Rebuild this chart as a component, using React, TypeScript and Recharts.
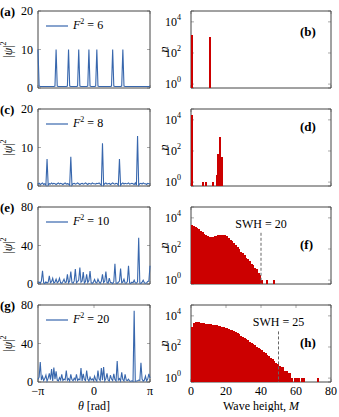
import {
  LineChart,
  Line,
  BarChart,
  Bar,
  XAxis,
  YAxis,
  CartesianGrid,
  ReferenceArea,
  ReferenceLine,
  Legend,
} from "recharts";

const SERIF = '"Liberation Serif", "DejaVu Serif", serif';
const BLUE = "#3867ad";
const RED = "#cc0000";
const FRAME = "#444";
const TICK = "#aaa";
const PI = Math.PI;

// |psi|^2 sampled on theta in [-pi, pi], 100 points per panel
const psiA = [
  10, 0.5, 0.4, 0.4, 0.4, 0.4, 0.4, 0.4, 0.4, 0.4,
  0.4, 0.4, 0.4, 0.4, 0.4, 0.5, 10, 0.5, 0.4, 0.4,
  0.4, 0.4, 0.4, 0.4, 0.4, 0.4, 0.5, 10, 0.5, 0.4,
  0.4, 0.4, 0.4, 0.4, 0.4, 0.5, 10, 0.5, 0.4, 0.4,
  0.4, 0.4, 0.4, 0.4, 0.5, 10, 0.5, 0.4, 0.4, 0.4,
  0.4, 0.5, 10, 0.5, 0.4, 0.4, 0.4, 0.4, 0.4, 0.4,
  0.4, 0.4, 0.4, 0.4, 0.4, 0.5, 10, 0.5, 0.4, 0.4,
  0.4, 0.4, 0.4, 0.4, 0.5, 10, 0.5, 0.4, 0.4, 0.4,
  0.4, 0.4, 0.4, 0.4, 0.4, 0.4, 0.4, 0.4, 0.4, 0.4,
  0.4, 0.4, 0.4, 0.4, 0.4, 0.4, 0.4, 0.4, 0.4, 0.4,
];
const psiC = [
  0.5, 0.7, 0.4, 0.6, 0.8, 0.4, 0.6, 0.2, 7.0, 0.2,
  0.6, 0.5, 0.8, 0.5, 0.7, 0.6, 0.4, 0.6, 0.8, 0.5,
  0.7, 0.6, 0.4, 0.6, 0.8, 0.5, 0.6, 0.5, 0.2, 7.6,
  0.2, 0.6, 0.7, 0.5, 0.6, 0.8, 0.6, 0.4, 0.6, 0.7,
  0.5, 0.6, 0.8, 0.6, 0.4, 0.7, 0.6, 0.5, 0.8, 0.6,
  0.6, 0.5, 0.7, 0.6, 0.8, 0.5, 0.2, 11.1, 0.2, 0.6,
  0.8, 0.5, 0.6, 0.7, 0.4, 0.6, 0.8, 0.6, 0.5, 0.7,
  0.6, 0.2, 7.0, 0.2, 0.6, 0.8, 0.5, 0.7, 0.6, 0.6,
  0.8, 0.5, 0.6, 0.7, 0.6, 0.4, 0.8, 0.2, 13.0, 0.2,
  0.6, 0.7, 0.5, 0.8, 0.6, 0.6, 0.4, 0.7, 0.6, 0.5,
];
const psiE = [
  1.5, 2.0, 0.8, 3.0, 13.7, 1.2, 0.6, 2.2, 1.0, 1.8,
  8.5, 1.4, 2.5, 6.0, 1.0, 2.0, 5.0, 1.3, 2.4, 6.0,
  1.2, 0.8, 2.6, 5.0, 1.5, 2.0, 10.0, 1.1, 3.0, 13.0,
  1.6, 0.9, 3.2, 15.5, 1.3, 2.4, 4.0, 17.0, 1.8, 3.0,
  12.5, 1.0, 2.6, 10.0, 1.4, 3.5, 13.5, 1.2, 0.7, 2.0,
  4.7, 1.6, 1.0, 5.0, 2.2, 0.8, 2.8, 10.0, 1.4, 3.0,
  13.0, 1.5, 0.9, 6.0, 1.7, 1.2, 0.6, 2.4, 21.0, 1.0,
  0.7, 1.8, 3.0, 16.0, 1.2, 2.0, 5.0, 1.1, 0.8, 2.5,
  19.0, 1.0, 0.6, 2.0, 1.4, 4.0, 1.2, 0.8, 2.2, 48.0,
  1.0, 0.7, 2.0, 4.0, 1.3, 0.8, 1.1, 2.6, 3.0, 19.0,
];
const psiG = [
  3.0, 5.0, 20.8, 2.0, 6.0, 1.5, 3.5, 7.0, 1.0, 4.0,
  9.0, 2.5, 13.5, 1.0, 15.0, 3.0, 11.0, 2.0, 1.2, 4.5,
  2.0, 8.0, 1.5, 3.0, 2.2, 12.0, 1.8, 3.5, 1.0, 8.0,
  2.5, 1.2, 4.0, 2.0, 8.0, 1.5, 3.0, 2.2, 14.5, 1.0,
  8.5, 2.5, 1.4, 12.0, 3.0, 1.0, 5.0, 2.0, 3.2, 1.5,
  6.0, 2.4, 1.0, 12.0, 3.0, 1.5, 14.5, 2.0, 15.5, 1.2,
  3.5, 9.0, 2.0, 1.0, 7.0, 3.0, 1.5, 8.5, 2.5, 1.0,
  21.8, 2.0, 3.5, 1.2, 10.0, 2.5, 1.0, 8.0, 2.0, 1.5,
  3.0, 1.0, 0.8, 1.2, 0.6, 74.0, 0.8, 1.0, 1.4, 2.0,
  1.5, 20.0, 3.0, 1.0, 2.0, 6.0, 1.2, 3.0, 8.5, 4.0,
];

const forcing = [6, 8, 10, 20]; // F^2 per row
const psiMax = [20, 20, 80, 80];

// histogram counts, unit bins of wave height M starting at 0 (0 = empty bin)
const histB = [1500, 0, 0, 0, 0, 0, 0, 0, 0, 0, 1000];
const histD = [20000, 0, 0, 0, 0, 0, 1, 0, 1, 0, 0, 0, 1, 0, 3, 60, 800, 40];
const histF = [
  3700, 3200, 2600, 2300, 1900, 1500, 1150, 900, 750, 660,
  620, 600, 610, 650, 720, 780, 830, 850, 830, 760,
  650, 520, 400, 320, 240, 175, 130, 95, 68, 55,
  40, 28, 22, 16, 11, 9, 6, 5, 3, 2,
  1, 0, 0, 1, 0, 0, 0, 1,
];
const histH = [
  1800, 3300, 4100, 4000, 3800, 3600, 3400, 3300, 3100, 3000,
  2900, 2800, 2700, 2600, 2500, 2350, 2200, 2050, 1900, 1750,
  1600, 1450, 1300, 1150, 1000, 880, 760, 640, 540, 450,
  380, 320, 270, 220, 180, 150, 130, 105, 88, 72,
  60, 50, 40, 32, 25, 20, 17, 12, 10, 8,
  6, 5, 5, 3, 3, 2, 2, 1, 0, 1,
  1, 1, 0, 1, 1, 0, 0, 0, 0, 0,
  0, 0, 1,
];
const swh = [null, null, 20, 25];
const swhLineTop = [0, 0, 1100, 1000];

const LEFT_LETTERS = ["(a)", "(c)", "(e)", "(g)"];
const RIGHT_LETTERS = ["(b)", "(d)", "(f)", "(h)"];
const RIGHT_LETTER_TOP = [21, 18, 38, 38];

const ROW_TOP = [11, 109, 207, 305];
const MT = 8; // space above each plot for tick labels
const PLOT_H = 77;
const LEFT_W = 112;
const RIGHT_W = 140;
const N_MIN = 0.562;
const N_MAX = 50000;

const tickStyle = { fontFamily: SERIF, fontSize: 12, fill: "#000" };

const LogTick = ({ x, y, payload }: any) => {
  const exp = Math.round(Math.log10(payload.value));
  return (
    <text x={x} y={y} textAnchor="end" dominantBaseline="central" fontFamily={SERIF} fontSize={12} fill="#000">
      10
      <tspan dy={-5} fontSize={8}>
        {exp}
      </tspan>
    </text>
  );
};

// each histogram bar a little wider than its bin so neighbours join up
const HistBar = (p: any) =>
  p.height > 0 ? (
    <rect x={p.x + p.width / 2 - 1} y={p.y} width={2} height={p.height} fill={RED} shapeRendering="crispEdges" />
  ) : null;

const PsiLabel = ({ viewBox }: any) => {
  const cx = (viewBox?.x ?? 0) + 8;
  const cy = (viewBox?.y ?? MT) + (viewBox?.height ?? PLOT_H) / 2;
  return (
    <text x={cx} y={cy} transform={`rotate(-90 ${cx} ${cy})`} textAnchor="middle" dominantBaseline="central" fontFamily={SERIF} fontSize={12} fill="#000">
      |<tspan fontStyle="italic">ψ</tspan>|<tspan dy={-5} fontSize={8}>2</tspan>
    </text>
  );
};

const NLabel = ({ viewBox }: any) => {
  const cx = (viewBox?.x ?? 0) + 8;
  const cy = (viewBox?.y ?? MT) + (viewBox?.height ?? PLOT_H) / 2;
  return (
    <text x={cx} y={cy} transform={`rotate(-90 ${cx} ${cy})`} textAnchor="middle" dominantBaseline="central" fontFamily={SERIF} fontSize={13} fontStyle="italic" fill="#000">
      n
    </text>
  );
};

const ThetaTitle = ({ viewBox }: any) => {
  const cx = (viewBox?.x ?? 38) + (viewBox?.width ?? LEFT_W) / 2;
  const cy = (viewBox?.y ?? MT + PLOT_H) + 24;
  return (
    <text x={cx} y={cy} textAnchor="middle" dominantBaseline="central" fontFamily={SERIF} fontSize={12} fill="#000">
      <tspan fontStyle="italic">θ</tspan> [rad]
    </text>
  );
};

const MTitle = ({ viewBox }: any) => {
  const cx = (viewBox?.x ?? 36) + (viewBox?.width ?? RIGHT_W) / 2;
  const cy = (viewBox?.y ?? MT + PLOT_H) + 24;
  return (
    <text x={cx} y={cy} textAnchor="middle" dominantBaseline="central" fontFamily={SERIF} fontSize={12} fill="#000">
      Wave height, <tspan fontStyle="italic">M</tspan>
    </text>
  );
};

const piLabel = (v: number) => (v < 0 ? "−π" : v > 0 ? "π" : "0");

function ForcingLegend({ f2 }: { f2: number }) {
  return (
    <div style={{ display: "flex", alignItems: "center", fontFamily: SERIF, fontSize: 12, whiteSpace: "nowrap" }}>
      <svg width={22} height={4} style={{ display: "block" }}>
        <line x1={0} y1={2} x2={22} y2={2} stroke={BLUE} strokeWidth={1.2} />
      </svg>
      <span style={{ marginLeft: 5 }}>
        <i>F</i>
        <span style={{ fontSize: 8, position: "relative", top: -5 }}>2</span> = {f2}
      </span>
    </div>
  );
}

const letterStyle = { position: "absolute" as const, fontFamily: SERIF, fontSize: 13, fontWeight: "bold" as const };

function WavePanel({ row, values }: { row: number; values: number[] }) {
  const last = row === 3;
  const axisH = last ? 30 : 8;
  const yMax = psiMax[row];
  const data = values.map((v, i) => ({ theta: -PI + (2 * PI * i) / (values.length - 1), psi: v }));
  return (
    <div style={{ position: "absolute", left: 0, top: ROW_TOP[row] - MT }}>
      <LineChart width={160} height={MT + PLOT_H + axisH} data={data} margin={{ top: MT, right: 10, bottom: 0, left: 0 }}>
        <CartesianGrid horizontal={false} stroke={TICK} strokeDasharray={`3 ${PLOT_H - 6} 3`} />
        <CartesianGrid vertical={false} stroke={TICK} strokeDasharray={`3 ${LEFT_W - 6} 3`} />
        <XAxis
          type="number"
          dataKey="theta"
          domain={[-PI, PI]}
          ticks={[-PI, 0, PI]}
          interval={0}
          tickFormatter={piLabel}
          height={axisH}
          axisLine={false}
          tickLine={false}
          tickSize={0}
          tickMargin={4}
          tick={last ? tickStyle : false}
          label={last ? { content: ThetaTitle } : undefined}
        />
        <YAxis
          type="number"
          domain={[0, yMax]}
          ticks={[0, yMax / 2, yMax]}
          interval={0}
          width={38}
          axisLine={false}
          tickLine={false}
          tickSize={0}
          tickMargin={5}
          tick={tickStyle}
          label={{ content: PsiLabel }}
        />
        <ReferenceArea x1={-PI} x2={PI} y1={0} y2={yMax} fill="none" stroke={FRAME} strokeWidth={1} />
        <Line type="linear" dataKey="psi" stroke={BLUE} strokeWidth={1.1} dot={false} isAnimationActive={false} />
        <Legend
          layout="vertical"
          verticalAlign="middle"
          align="center"
          wrapperStyle={{ top: MT + 7, left: 46, width: "auto" }}
          content={() => <ForcingLegend f2={forcing[row]} />}
        />
      </LineChart>
      <div style={{ ...letterStyle, left: 0, top: 1 }}>{LEFT_LETTERS[row]}</div>
    </div>
  );
}

function HistPanel({ row, counts }: { row: number; counts: number[] }) {
  const last = row === 3;
  const axisH = last ? 30 : 8;
  const data = Array.from({ length: 80 }, (_, i) => ({ m: i + 0.5, n: counts[i] ? counts[i] : null }));
  const s = swh[row];
  return (
    <div style={{ position: "absolute", left: 155, top: ROW_TOP[row] - MT }}>
      <BarChart
        width={184}
        height={MT + PLOT_H + axisH}
        data={data}
        margin={{ top: MT, right: 8, bottom: 0, left: 0 }}
        barCategoryGap={0}
        barGap={0}
      >
        <CartesianGrid horizontal={false} stroke={TICK} strokeDasharray={`3 ${PLOT_H - 6} 3`} />
        <CartesianGrid vertical={false} stroke={TICK} strokeDasharray={`3 ${RIGHT_W - 6} 3`} />
        <XAxis
          type="number"
          dataKey="m"
          domain={[0, 80]}
          ticks={[0, 20, 40, 60, 80]}
          interval={0}
          height={axisH}
          axisLine={false}
          tickLine={false}
          tickSize={0}
          tickMargin={4}
          tick={last ? tickStyle : false}
          label={last ? { content: MTitle } : undefined}
        />
        <YAxis
          type="number"
          scale="log"
          domain={[N_MIN, N_MAX]}
          allowDataOverflow
          ticks={[1, 100, 10000]}
          interval={0}
          width={36}
          axisLine={false}
          tickLine={false}
          tickSize={0}
          tickMargin={10}
          tick={<LogTick />}
          label={{ content: NLabel }}
        />
        <Bar dataKey="n" fill={RED} shape={HistBar} isAnimationActive={false} />
        {s !== null && (
          <ReferenceLine
            segment={[
              { x: 2 * s, y: swhLineTop[row] },
              { x: 2 * s, y: N_MIN },
            ]}
            stroke="#666"
            strokeWidth={1}
            strokeDasharray="3 2"
            label={{ value: `SWH = ${s}`, position: "top", offset: 5, fontFamily: SERIF, fontSize: 12, fill: "#000" }}
          />
        )}
        <ReferenceArea x1={0} x2={80} y1={N_MIN} y2={N_MAX} fill="none" stroke={FRAME} strokeWidth={1} />
      </BarChart>
      <div style={{ ...letterStyle, left: 145, top: RIGHT_LETTER_TOP[row] }}>{RIGHT_LETTERS[row]}</div>
    </div>
  );
}

export default function App() {
  const waves = [psiA, psiC, psiE, psiG];
  const hists = [histB, histD, histF, histH];
  return (
    <div style={{ position: "absolute", left: 0, top: 0, width: 339, height: 417, background: "#fff" }}>
      {waves.map((w, r) => (
        <WavePanel key={`w${r}`} row={r} values={w} />
      ))}
      {hists.map((h, r) => (
        <HistPanel key={`h${r}`} row={r} counts={h} />
      ))}
    </div>
  );
}
